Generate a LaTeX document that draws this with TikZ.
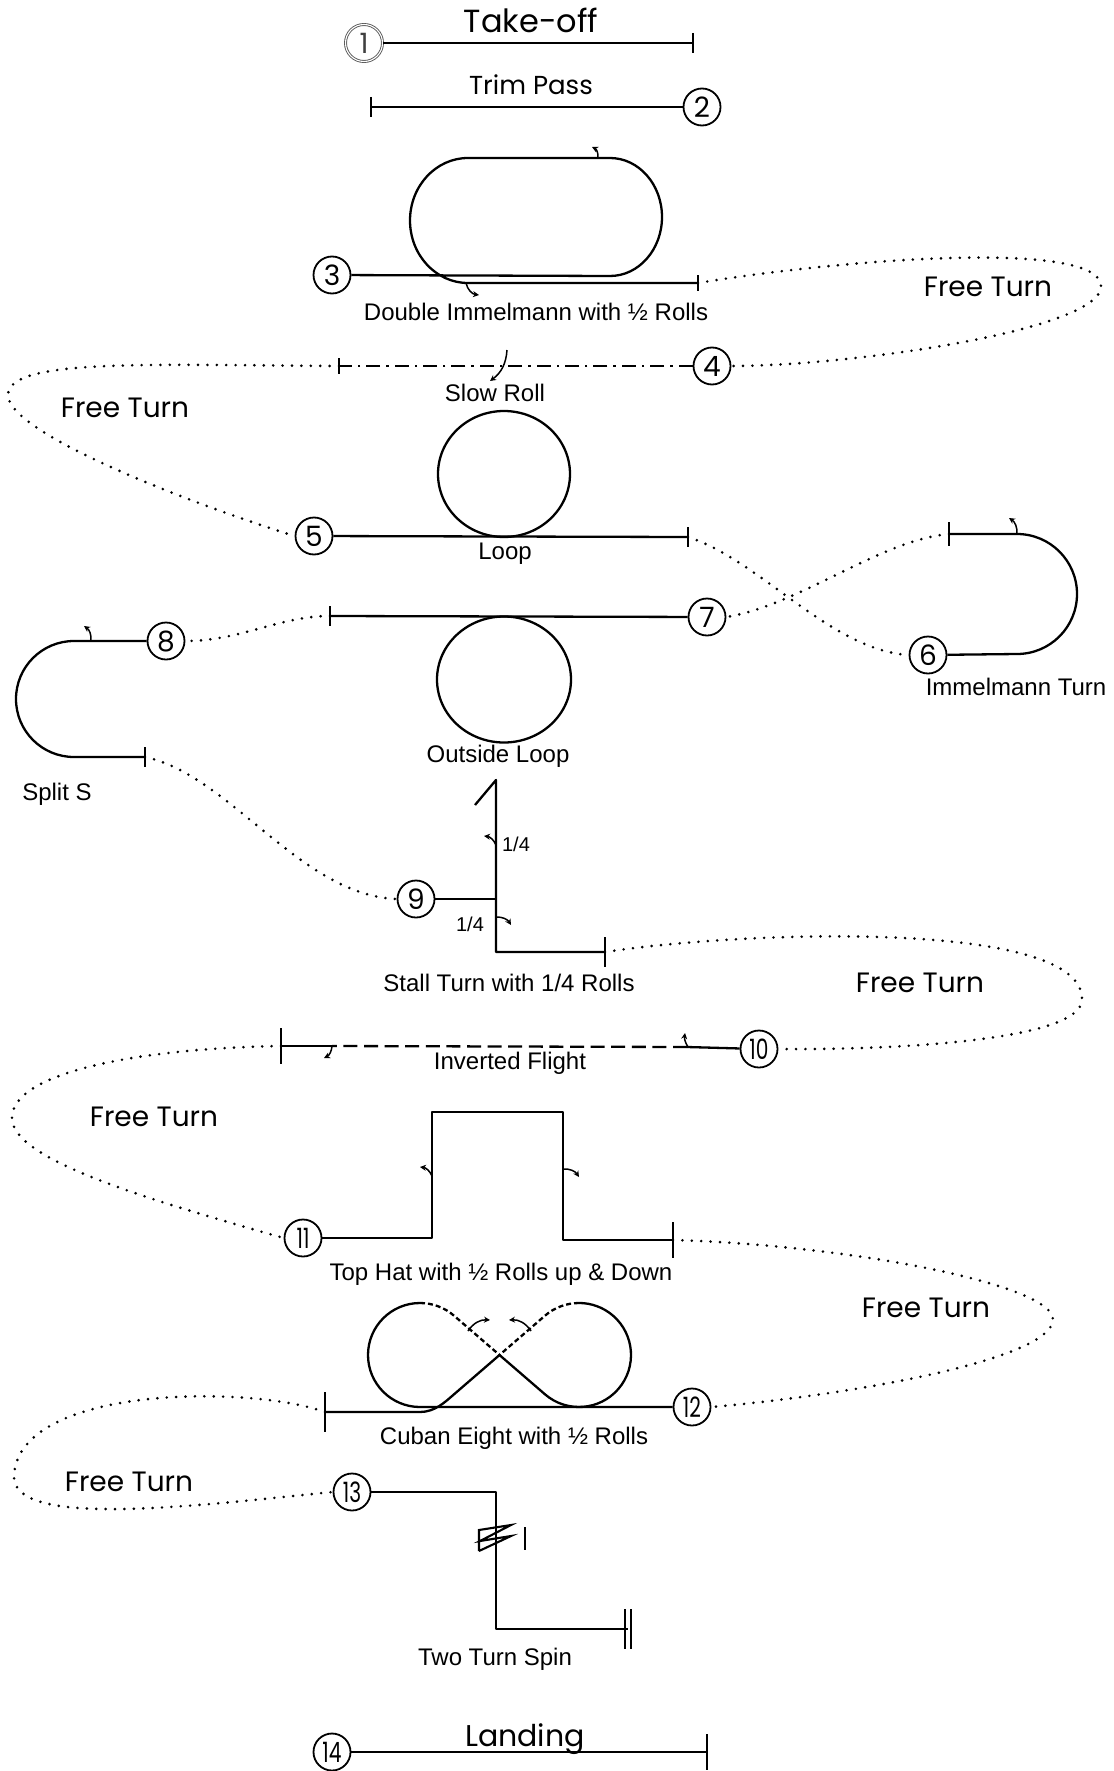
\documentclass[tikz,border=0pt]{standalone}
\usepackage{fontspec}
\usepackage{graphicx}
\usetikzlibrary{arrows.meta}
\newfontfamily\geo{Poppins}
\newfontfamily\ari{Liberation Sans}
\newcommand\tw[1]{\scalebox{0.72}[1]{#1}}
\begin{document}
\begin{tikzpicture}[x=0.5pt,y=-0.5pt,
  fl/.style={line width=1.15pt, line join=round},
  dotp/.style={line width=1.45pt, line cap=round, dash pattern=on 0pt off 4.7pt},
  num/.style={circle, draw, line width=0.9pt, minimum size=18.5pt, inner sep=0pt, font=\geo\fontsize{14}{14}\selectfont},
  lab/.style={font=\ari\fontsize{12}{14}\selectfont, inner sep=0pt, anchor=base},
  ft/.style={font=\geo\fontsize{14}{16}\selectfont, inner sep=0pt, anchor=base},
  hk/.style={line width=0.75pt, -{Stealth[length=3pt,width=3pt]}},
  tk/.style={line width=1.15pt},
  dd/.style={fl, dash pattern=on 2.5pt off 1.5pt}]
\useasboundingbox (0,0) rectangle (1113,1771);
\fill[white] (0,0) rectangle (1113,1771);

% 1 Take-off
\node[num, draw=black!65, double, double distance=0.55pt, line width=0.45pt, text=black!75] (n1) at (364,43) {1};
\coordinate (e1) at (693,43);
\draw[fl] (n1) -- (e1);
\draw[tk] ([yshift=5pt]e1) -- ([yshift=-5pt]e1);
\node[ft, font=\geo\fontsize{16}{18}\selectfont] (l1) at (531,33) {Take-off};

% 2 Trim pass
\coordinate (s2) at (371,107);
\node[num] (n2) at (702,107) {2};
\draw[fl] (s2) -- (n2);
\draw[tk] ([yshift=5pt]s2) -- ([yshift=-5pt]s2);
\node[ft, font=\geo\fontsize{13}{15}\selectfont] (l2) at (531,95) {Trim Pass};

% 3 Double Immelmann
\node[num] (n3) at (332,275) {3};
\coordinate (e3) at (698,283);
\draw[fl] (n3) -- (610,276) arc[start angle=-90,end angle=90,x radius=26pt,y radius=29.5pt]
  -- (468,158) arc[start angle=90,end angle=270,x radius=29pt,y radius=31.25pt] -- (e3);
\draw[tk] ([yshift=4pt]e3) -- ([yshift=-4pt]e3);
\draw[hk] (598,158) to[bend right=35] (592,147);
\draw[hk] (466,283) to[bend right=35] (479,295);
\node[lab] (l3) at (536,320.5) {Double Immelmann with ½ Rolls};

% free turn 3 -> 4
\node[num] (n4) at (712,366) {4};
\draw[dotp] (e3) .. controls (850,258) and (1100,240) .. (1101,286) .. controls (1102,330) and (850,366) .. (n4.east);
\node[ft] (f1) at (988,296) {Free Turn};

% 4 Slow roll
\coordinate (e4) at (339,366);
\draw[fl, line width=1pt, dash pattern=on 7pt off 3pt on 1.2pt off 3pt] (n4) -- (e4);
\draw[tk] ([yshift=4pt]e4) -- ([yshift=-4pt]e4);
\draw[hk] (507,350) to[bend left=25] (490,381);
\node[lab] (l4) at (495,401.5) {Slow Roll};

% free turn 4 -> 5
\node[num] (n5) at (314,536) {5};
\draw[dotp] (e4) .. controls (150,365) and (8,358) .. (8,395) .. controls (8,432) and (180,500) .. (n5.west);
\node[ft] (f2) at (125,417) {Free Turn};

% 5 Loop
\coordinate (e5) at (688,537);
\draw[fl] (n5) -- (e5);
\draw[tk] ([yshift=5pt]e5) -- ([yshift=-5pt]e5);
\draw[fl] (504,474) ellipse [x radius=33pt, y radius=31.5pt];
\node[lab] (l5) at (505,559.5) {Loop};

% 5 -> 6
\node[num] (n6) at (928,655) {6};
\draw[dotp] (e5) .. controls (760,560) and (830,650) .. (n6.west);
\coordinate (e6) at (949,534);
\draw[fl] (n6) -- (1017,654) arc[start angle=-90,end angle=90,radius=30pt] -- (e6);
\draw[tk] ([yshift=6pt]e6) -- ([yshift=-6pt]e6);
\draw[hk] (1017,534) to[bend right=30] (1009,518);
\node[lab] (l6) at (1016,695.5) {Immelmann Turn};

% 6 -> 7 Outside loop
\node[num] (n7) at (707,617) {7};
\draw[dotp] (e6) .. controls (880,540) and (800,605) .. (n7.east);
\coordinate (s7) at (330,616);
\draw[fl] (n7) -- (s7);
\draw[tk] ([yshift=5pt]s7) -- ([yshift=-5pt]s7);
\draw[fl] (504,679.5) ellipse [x radius=33.5pt, y radius=31.5pt];
\node[lab] (l7) at (498,762.5) {Outside Loop};

% 7 -> 8 Split S
\node[num] (n8) at (166,641) {8};
\draw[dotp] (s7) .. controls (280,616) and (240,641) .. (n8.east);
\coordinate (e8) at (145,757);
\draw[fl] (n8) -- (74,641) arc[start angle=90,end angle=270,radius=29pt] -- (e8);
\draw[tk] ([yshift=5pt]e8) -- ([yshift=-5pt]e8);
\draw[hk] (91,641) to[bend right=30] (84,626);
\node[lab] (l8) at (57,800.5) {Split S};

% 8 -> 9 Stall turn
\node[num] (n9) at (416,899) {9};
\draw[dotp] (e8) .. controls (230,775) and (300,895) .. (n9.west);
\coordinate (e9) at (605,952);
\draw[fl] (n9) -- (496,899);
\draw[fl] (475,805) -- (496,780) -- (496,952) -- (e9);
\draw[tk] ([yshift=7.5pt]e9) -- ([yshift=-7.5pt]e9);
\draw[hk] (496,845) to[bend right=30] (484,836);
\draw[hk] (496,917) to[bend left=30] (511,925);
\node[lab, font=\ari\fontsize{10}{12}\selectfont] (q1) at (516,851) {1/4};
\node[lab, font=\ari\fontsize{10}{12}\selectfont] (q2) at (470,931) {1/4};
\node[lab] (l9) at (509,991.5) {Stall Turn with 1/4 Rolls};

% free turn 9 -> 10
\node[num] (n10) at (759,1049) {\tw{10}};
\draw[dotp] (e9) .. controls (750,930) and (1085,920) .. (1082,1000) .. controls (1080,1040) and (900,1050) .. (n10.east);
\node[ft] (f3) at (920,992) {Free Turn};

% 10 Inverted flight
\coordinate (e10) at (281,1046);
\coordinate (a10) at (687,1047);
\coordinate (b10) at (332,1046);
\draw[fl] (n10) -- (a10);
\draw[fl, dash pattern=on 7pt off 3.3pt] (a10) -- (b10);
\draw[fl] (b10) -- (e10);
\draw[tk] ([yshift=9pt]e10) -- ([yshift=-9pt]e10);
\draw[hk] (688,1047) to[bend left=20] (685,1033);
\draw[hk] (332,1046) to[bend left=30] (324,1058);
\node[lab] (l10) at (510,1069.5) {Inverted Flight};

% free turn 10 -> 11
\node[num] (n11) at (303,1238) {\tw{11}};
\draw[dotp] (e10) .. controls (150,1048) and (12,1070) .. (12,1118) .. controls (12,1160) and (150,1200) .. (n11.west);
\node[ft] (f4) at (154,1126) {Free Turn};

% 11 Top hat
\coordinate (e11) at (673,1240);
\draw[fl] (n11) -- (432,1238) -- (432,1112) -- (563,1112) -- (563,1240) -- (e11);
\draw[tk] ([yshift=9pt]e11) -- ([yshift=-9pt]e11);
\draw[hk] (432,1176) to[bend right=30] (420,1167);
\draw[hk] (563,1169) to[bend left=30] (579,1177);
\node[lab] (l11) at (501,1280.5) {Top Hat with ½ Rolls up \& Down};

% free turn 11 -> 12
\node[num] (n12) at (692,1407) {\tw{12}};
\draw[dotp] (e11) .. controls (850,1245) and (1055,1285) .. (1053,1320) .. controls (1050,1360) and (850,1395) .. (n12.east);
\node[ft] (f5) at (926,1317) {Free Turn};

% 12 Cuban eight
\coordinate (e12) at (325,1412);
\coordinate (cx) at (499.5,1355);
\draw[fl] (n12) -- (420,1407) arc[start angle=270,end angle=90,radius=26pt];
\draw[dd] (420,1303) arc[start angle=90,end angle=49.2,radius=26pt] -- (cx);
\draw[fl] (cx) -- (545.02,1394.33) arc[start angle=229.2,end angle=450,radius=26pt];
\draw[dd] (579,1303) arc[start angle=90,end angle=130.8,radius=26pt] -- (cx);
\draw[fl] (cx) -- (453.98,1394.33) .. controls (445,1402) and (435,1412) .. (420,1412) -- (e12);
\draw[tk] ([yshift=10pt]e12) -- ([yshift=-10pt]e12);
\draw[hk] (468,1331) to[bend left=30] (490,1320);
\draw[hk] (531,1331) to[bend right=30] (509,1320);
\node[lab] (l12) at (514,1444.5) {Cuban Eight with ½ Rolls};

% free turn 12 -> 13
\node[num] (n13) at (352,1492) {\tw{13}};
\draw[dotp] (e12) .. controls (250,1385) and (20,1385) .. (14,1475) .. controls (10,1530) and (200,1505) .. (n13.west);
\node[ft] (f6) at (129,1491) {Free Turn};

% 13 Spin
\coordinate (e13) at (628,1629);
\draw[fl] (n13) -- (496,1492) -- (496,1629) -- (e13);
\draw[tk] ([xshift=-1.5pt,yshift=10pt]e13) -- ([xshift=-1.5pt,yshift=-10pt]e13);
\draw[tk] ([xshift=1.5pt,yshift=10pt]e13) -- ([xshift=1.5pt,yshift=-10pt]e13);
\draw[line width=1.05pt, line join=miter] (479,1551) -- (479,1530) -- (511,1525) -- (480,1541) -- (511,1536) -- (479,1551);
\draw[line width=1.05pt] (525,1527) -- (525,1550);
\node[lab] (l13) at (495,1665.5) {Two Turn Spin};

% 14 Landing
\node[num] (n14) at (332,1752) {\tw{14}};
\coordinate (e14) at (707,1752);
\draw[fl] (n14) -- (e14);
\draw[tk] ([yshift=9pt]e14) -- ([yshift=-9pt]e14);
\node[ft, font=\geo\fontsize{15}{17}\selectfont] (l14) at (525,1746.5) {Landing};
\end{tikzpicture}
\end{document}
